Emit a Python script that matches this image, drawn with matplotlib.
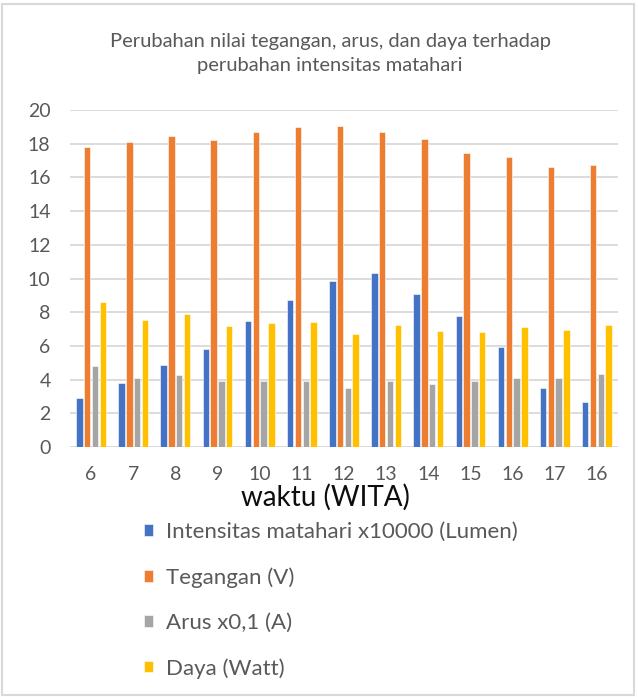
import matplotlib
matplotlib.use("Agg")
import matplotlib.pyplot as plt
import numpy as np
from matplotlib.patches import Rectangle

plt.rcParams['font.family'] = ['Lato', 'DejaVu Sans']

hours = ["6", "7", "8", "9", "10", "11", "12", "13", "14", "15", "16", "17", "16"]
intensitas = [2.88, 3.80, 4.89, 5.80, 7.47, 8.71, 9.86, 10.32, 9.09, 7.79, 5.94, 3.52, 2.66]
tegangan = [17.83, 18.13, 18.45, 18.21, 18.67, 18.99, 19.07, 18.67, 18.29, 17.46, 17.22, 16.60, 16.76]
arus = [4.79, 4.12, 4.25, 3.90, 3.90, 3.90, 3.50, 3.90, 3.74, 3.90, 4.12, 4.12, 4.33]
daya = [8.63, 7.55, 7.87, 7.18, 7.34, 7.42, 6.72, 7.26, 6.88, 6.80, 7.10, 6.94, 7.26]

series_names = ["Intensitas matahari x10000 (Lumen)", "Tegangan (V)", "Arus x0,1 (A)", "Daya (Watt)"]
series = [intensitas, tegangan, arus, daya]
colors = ["#4472C4", "#ED7D31", "#A5A5A5", "#FFC000"]
yticks = [0, 2, 4, 6, 8, 10, 12, 14, 16, 18, 20]

W, H = 638, 697
fig = plt.figure(figsize=(W / 100, H / 100), dpi=100)
fig.patch.set_facecolor("white")

# outer border
fig.add_artist(Rectangle((2 / W, 2 / H), 1 - 6 / W, 1 - 6 / H, transform=fig.transFigure,
                         fill=False, edgecolor="#d9d9d9", lw=1.5))

left, right = 70, 618
top, bottom = 110, 447
ax = fig.add_axes([left / W, 1 - bottom / H, (right - left) / W, (bottom - top) / H])

x = np.arange(len(hours))
pitch = 0.185
bw = 0.152
for i, (vals, c) in enumerate(zip(series, colors)):
    ax.bar(x + (i - 1.5) * pitch, vals, width=bw, color=c, edgecolor="white", linewidth=0.4,
           label=series_names[i], zorder=3)

ax.set_xlim(-0.5, len(hours) - 0.5)
ax.set_ylim(0, 20)
ax.set_yticks(yticks)
ax.set_yticklabels([str(v) for v in yticks], fontsize=14, color="#595959")
ax.set_xticks(x)
ax.set_xticklabels(hours, fontsize=14, color="#595959")
ax.tick_params(axis="both", length=0)
ax.tick_params(axis="x", pad=14)
ax.tick_params(axis="y", pad=14)
ax.grid(axis="y", color="#d9d9d9", lw=1.3, zorder=0)
for s in ax.spines.values():
    s.set_visible(False)
ax.axhline(0, color="#d9d9d9", lw=1.3, zorder=2)

fig.text(330 / W, 1 - 42 / H, "Perubahan nilai tegangan, arus, dan daya terhadap",
         ha="center", va="center", fontsize=14.5, color="#595959")
fig.text(330 / W, 1 - 65 / H, "perubahan intensitas matahari",
         ha="center", va="center", fontsize=14.5, color="#595959")

fig.text(325 / W, 1 - 497 / H, "waktu (WITA)", ha="center", va="center",
         fontsize=20, color="#0d0d0d")

handles, labels = ax.get_legend_handles_labels()
leg = fig.legend(handles, labels, loc="upper left", bbox_to_anchor=(144 / W, 1 - 522 / H),
                 frameon=False, fontsize=16, labelspacing=1.13, handlelength=0.42,
                 handleheight=0.42, handletextpad=0.55, borderaxespad=0, borderpad=0)
for t in leg.get_texts():
    t.set_color("#595959")

fig.savefig("out.png", dpi=100, facecolor="white")
